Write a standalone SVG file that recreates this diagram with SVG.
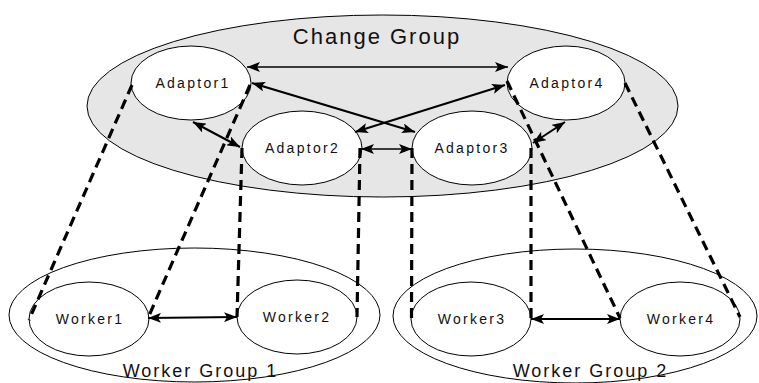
<svg xmlns="http://www.w3.org/2000/svg" width="759" height="383" viewBox="0 0 759 383">
<defs>
<marker id="ah" markerUnits="userSpaceOnUse" markerWidth="13" markerHeight="10" refX="13" refY="5" orient="auto-start-reverse" viewBox="0 0 13 10">
<path d="M0,0 L13,5 L0,10 L3,5 z" fill="#000"/>
</marker>
</defs>
<style>
.grp{fill:#e6e6e6;stroke:#000;stroke-width:1}
.wgrp{fill:none;stroke:#000;stroke-width:1}
.node{fill:#fff;stroke:#000;stroke-width:1}
.lbl{font-family:"Liberation Sans",Arial,sans-serif;font-size:14px;letter-spacing:2.3px;fill:#111;text-anchor:middle}
.big{font-family:"Liberation Sans",Arial,sans-serif;font-size:22px;letter-spacing:2px;fill:#111;text-anchor:middle}
.glbl{font-family:"Liberation Sans",Arial,sans-serif;font-size:18px;letter-spacing:2px;fill:#111;text-anchor:middle}
.arr{fill:none;stroke:#000;stroke-width:2;marker-start:url(#ah);marker-end:url(#ah)}
.thin{stroke-width:1.3}
.dash{fill:none;stroke:#000;stroke-width:3.2;stroke-dasharray:10 6}
</style>
<g id="change-group">
<ellipse class="grp" cx="382.5" cy="106" rx="295.5" ry="91"/>
<text class="big" x="377" y="44">Change Group</text>
</g>
<g id="worker-group-1">
<ellipse class="wgrp" cx="194.5" cy="315" rx="185.5" ry="67"/>
<text class="glbl" x="200.5" y="377">Worker Group 1</text>
</g>
<g id="worker-group-2">
<ellipse class="wgrp" cx="575" cy="316" rx="182" ry="67"/>
<text class="glbl" x="590.5" y="377">Worker Group 2</text>
</g>
<g id="adaptor1">
<ellipse class="node" cx="191" cy="83" rx="60" ry="37"/>
<text class="lbl" x="193" y="88">Adaptor1</text>
</g>
<g id="adaptor4">
<ellipse class="node" cx="566" cy="83" rx="59" ry="37"/>
<text class="lbl" x="567" y="88">Adaptor4</text>
</g>
<g id="adaptor2">
<ellipse class="node" cx="302" cy="148" rx="60" ry="37"/>
<text class="lbl" x="302.5" y="153">Adaptor2</text>
</g>
<g id="adaptor3">
<ellipse class="node" cx="472" cy="148" rx="60" ry="37"/>
<text class="lbl" x="472" y="153">Adaptor3</text>
</g>
<g id="worker1">
<ellipse class="node" cx="89" cy="319" rx="60" ry="37"/>
<text class="lbl" x="90" y="324">Worker1</text>
</g>
<g id="worker2">
<ellipse class="node" cx="297" cy="317" rx="60" ry="37"/>
<text class="lbl" x="297" y="322">Worker2</text>
</g>
<g id="worker3">
<ellipse class="node" cx="471" cy="319" rx="60" ry="37"/>
<text class="lbl" x="472" y="324">Worker3</text>
</g>
<g id="worker4">
<ellipse class="node" cx="680" cy="319" rx="60" ry="37"/>
<text class="lbl" x="681" y="324">Worker4</text>
</g>
<g id="connectors">
<line class="arr thin" x1="247" y1="67" x2="508" y2="67"/>
<line class="arr" x1="252" y1="83" x2="415" y2="132"/>
<line class="arr" x1="505" y1="85" x2="355" y2="132"/>
<line class="arr" x1="193" y1="122" x2="240" y2="147"/>
<line class="arr thin" x1="361" y1="149" x2="412" y2="149"/>
<line class="arr" x1="533" y1="143" x2="565" y2="122"/>
<line class="arr" x1="148" y1="318" x2="237" y2="317"/>
<line class="arr" x1="531" y1="319" x2="620" y2="319"/>
<line class="dash" x1="132" y1="85" x2="29" y2="320"/>
<line class="dash" x1="250" y1="85" x2="148" y2="318"/>
<line class="dash" x1="242" y1="148" x2="237" y2="317"/>
<line class="dash" x1="360" y1="148" x2="357" y2="317"/>
<line class="dash" x1="412" y1="148" x2="411.5" y2="318"/>
<line class="dash" x1="531" y1="148" x2="531" y2="318"/>
<line class="dash" x1="507" y1="81" x2="620" y2="318"/>
<line class="dash" x1="625" y1="83" x2="740" y2="317"/>
</g>
</svg>
